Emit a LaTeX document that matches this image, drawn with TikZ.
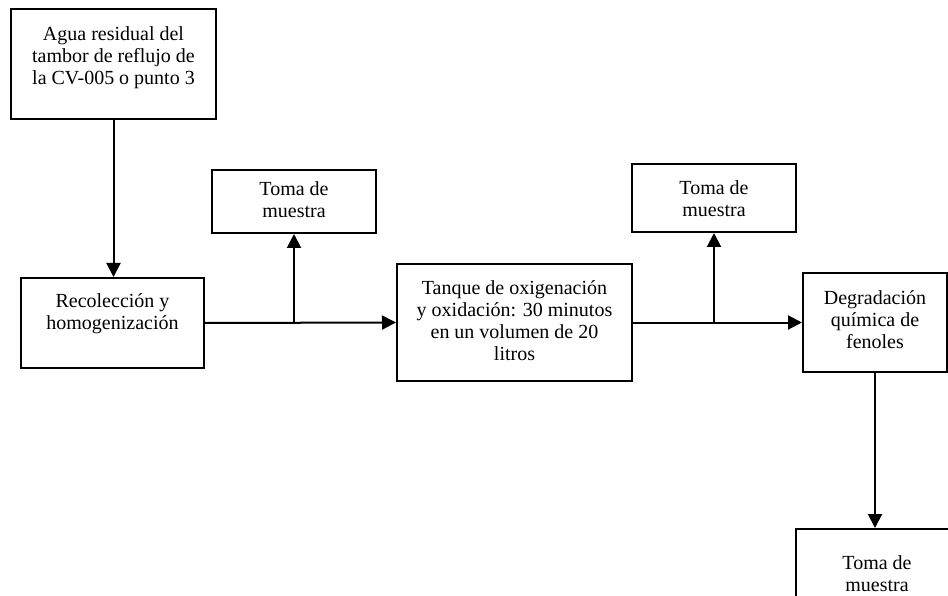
\documentclass[tikz,border=0pt]{standalone}
\usepackage{fontspec}
\setmainfont{Liberation Serif}
\usetikzlibrary{arrows.meta}
\tikzset{
  box/.style={draw, line width=2pt, inner sep=0pt},
  txt/.style={align=center, inner sep=0pt, anchor=north,
    font=\fontsize{20}{22.2}\selectfont},
  flow/.style={line width=2pt, -{Triangle[length=14pt,width=14pt]}}
}
\begin{document}
\begin{tikzpicture}[x=1pt,y=-1pt]
\useasboundingbox (0,0) rectangle (948,596);
\begin{scope}
\clip (0,0) rectangle (948,596);
% boxes
\node[box, minimum width=205pt, minimum height=110pt] (b1) at (113.5,64) {};
\node[box, minimum width=183pt, minimum height=90pt]  (b2) at (112.5,323) {};
\node[box, minimum width=164pt, minimum height=63pt]  (t1) at (294,201.5) {};
\node[box, minimum width=235pt, minimum height=117pt] (b3) at (514.5,322.5) {};
\node[box, minimum width=164pt, minimum height=68pt]  (t2) at (714,198) {};
\node[box, minimum width=144pt, minimum height=99pt]  (b4) at (875,322.5) {};
\node[box, minimum width=162pt, minimum height=90pt]  (t3) at (877,574) {};
% texts, set near the top of each box
\node[txt] at (113.5,26) {Agua residual del\\tambor de reflujo de\\la CV-005 o punto 3};
\node[txt] at (112.5,293) {Recolección y\\homogenización};
\node[txt] at (294,181) {Toma de\\muestra};
\node[txt] at (514.5,280) {Tanque de oxigenación\\y oxidación: 30 minutos\\en un volumen de 20\\litros};
\node[txt] at (714,180) {Toma de\\muestra};
\node[txt] at (875,290) {Degradación\\química de\\fenoles};
\node[txt] at (877,555) {Toma de\\muestra};
% connectors
\draw[flow] (b1.south) -- (b1.south |- b2.north);
\draw[flow] (b2.east) -- (b3.west);
\draw[flow] (b2.east -| t1.south) -- (t1.south);
\draw[flow] (b3.east) -- (b4.west);
\draw[flow] (b3.east -| t2.south) -- (t2.south);
\draw[flow] (b4.south) -- (b4.south |- t3.north);
\end{scope}
\end{tikzpicture}
\end{document}
